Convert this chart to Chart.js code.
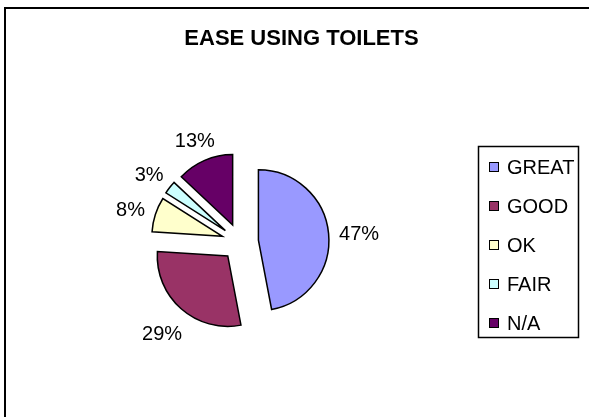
<!DOCTYPE html>
<html>
<head>
<meta charset="utf-8">
<title>Ease using toilets</title>
<script src="https://cdn.jsdelivr.net/npm/chart.js@4/dist/chart.umd.min.js"></script>
<style>
  html, body { margin: 0; padding: 0; background: #fff; }
  #wrap { position: relative; width: 589px; height: 417px; }
</style>
</head>
<body>
<div id="wrap"><canvas id="toilets-chart"></canvas></div>
<script>
const chartTitle = 'EASE USING TOILETS';
const categories = ['GREAT', 'GOOD', 'OK', 'FAIR', 'N/A'];
const shares = [47, 29, 8, 3, 13];
const sliceColors = ['#9999FF', '#993366', '#FFFFCC', '#CCFFFF', '#660066'];

const FONT = '"Liberation Sans", Arial, Helvetica, sans-serif';
const PIE_RADIUS = 70.5;
// how far every slice is pulled away from the middle
const EXPLODE = 18.5;

// Chart.js's own "offset" also grows and trims the arcs, so the slices are
// exploded here instead by moving each arc's centre along its mid angle
const explodeSlices = {
  id: 'explodeSlices',
  afterDatasetsUpdate(chart) {
    chart.getDatasetMeta(0).data.forEach((arc) => {
      const mid = (arc.startAngle + arc.endAngle) / 2;
      arc.x += Math.cos(mid) * EXPLODE;
      arc.y += Math.sin(mid) * EXPLODE;
    });
  },
};

// frame, title, legend box and the percent labels around the pie
const decorations = {
  id: 'decorations',
  beforeDraw(chart) {
    const { ctx } = chart;
    ctx.save();
    ctx.fillStyle = '#fff';
    ctx.fillRect(0, 0, chart.width, chart.height);
    ctx.strokeStyle = '#000';
    ctx.lineWidth = 2;
    ctx.strokeRect(5, 8, 700, 700);
    ctx.restore();
  },
  afterDraw(chart) {
    const { ctx } = chart;
    ctx.save();

    ctx.fillStyle = '#000';
    ctx.font = 'bold 22px ' + FONT;
    ctx.textAlign = 'center';
    ctx.textBaseline = 'alphabetic';
    ctx.fillText(chartTitle, 301.5, 45);

    // legend
    ctx.lineWidth = 1.5;
    ctx.strokeStyle = '#000';
    ctx.strokeRect(478.5, 146.5, 100, 191);
    ctx.font = '20px ' + FONT;
    ctx.textAlign = 'left';
    chart.data.labels.forEach((label, i) => {
      const cy = 167 + i * 39;
      ctx.fillStyle = chart.data.datasets[0].backgroundColor[i];
      ctx.fillRect(489, cy - 5, 10, 10);
      ctx.lineWidth = 1;
      ctx.strokeRect(489.5, cy - 4.5, 9, 9);
      ctx.fillStyle = '#000';
      ctx.fillText(label, 507, cy + 7);
    });

    // percent labels outside each slice
    const meta = chart.getDatasetMeta(0);
    const values = chart.data.datasets[0].data;
    const total = values.reduce((a, b) => a + b, 0);
    ctx.textAlign = 'center';
    meta.data.forEach((arc, i) => {
      const mid = (arc.startAngle + arc.endAngle) / 2;
      const text = Math.round(values[i] / total * 100) + '%';
      const hw = ctx.measureText(text).width / 2;
      const hh = 7.5;
      const dx = Math.cos(mid), dy = Math.sin(mid);
      const dist = arc.outerRadius + 10 + Math.abs(dx) * hw + Math.abs(dy) * hh;
      ctx.fillText(text, arc.x + dx * dist, arc.y + dy * dist + 9.5);
    });
    ctx.restore();
  },
};

new Chart(document.getElementById('toilets-chart'), {
  type: 'pie',
  data: {
    labels: categories,
    datasets: [{
      data: shares,
      backgroundColor: sliceColors,
      borderColor: '#000',
      borderWidth: 1.5,
      borderJoinStyle: 'miter',
    }],
  },
  options: {
    responsive: true,
    maintainAspectRatio: false,
    animation: false,
    radius: PIE_RADIUS,
    layout: {
      padding: { left: 100, right: 209, top: 125, bottom: 58 },
    },
    plugins: {
      legend: { display: false },
      title: { display: false },
      tooltip: { enabled: false },
    },
  },
  plugins: [explodeSlices, decorations],
});
</script>
</body>
</html>
